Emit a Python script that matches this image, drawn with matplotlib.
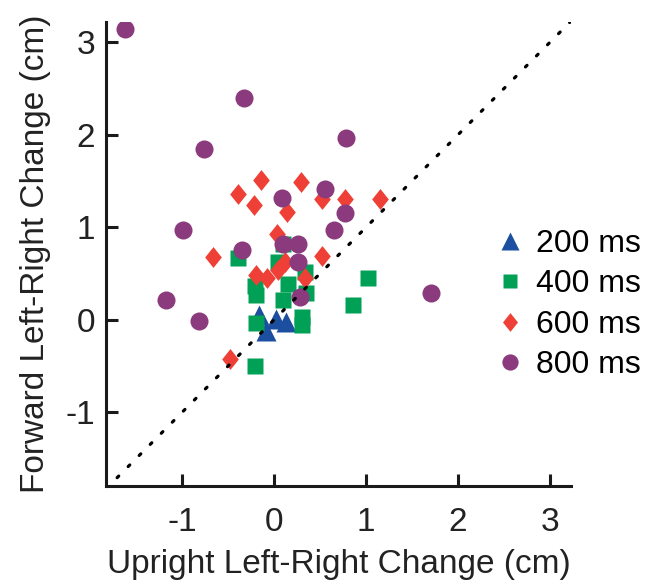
import matplotlib
matplotlib.use('Agg')
import matplotlib.pyplot as plt
from matplotlib.path import Path

plt.rcParams['font.family'] = ['Liberation Sans', 'DejaVu Sans']

# Left-right change per subject, upright (x) vs forward (y), in cm
x_200 = [-0.17, -0.09, 0.02, 0.13]
y_200 = [0.05, -0.12, 0.01, -0.03]

x_400 = [-0.39, 0.09, 0.04, -0.21, -0.20, 0.09, 0.15, 0.34, 0.35, 0.30, 0.30, -0.20, 1.02, 0.86, -0.21]
y_400 = [0.67, 0.82, 0.62, 0.36, 0.27, 0.21, 0.39, 0.51, 0.29, 0.03, -0.06, -0.04, 0.45, 0.16, -0.50]

x_600 = [-0.39, -0.14, -0.22, 0.29, 0.14, 0.52, 0.77, 1.15, 0.03, -0.67, -0.20, -0.08, 0.04, 0.12, 0.34, 0.52, -0.48]
y_600 = [1.36, 1.51, 1.24, 1.49, 1.17, 1.31, 1.31, 1.30, 0.93, 0.68, 0.48, 0.45, 0.54, 0.62, 0.45, 0.69, -0.43]

x_800 = [-1.62, -0.33, -0.76, 0.78, -0.99, -0.35, -1.18, -0.82, 0.08, 0.55, 0.77, 0.65, 0.09, 0.26, 0.26, 0.28, 1.71]
y_800 = [3.14, 2.40, 1.85, 1.96, 0.97, 0.75, 0.21, -0.02, 1.32, 1.41, 1.15, 0.97, 0.82, 0.82, 0.62, 0.25, 0.29]

labels = ['200 ms', '400 ms', '600 ms', '800 ms']
ticks = [-1, 0, 1, 2, 3]

BLUE = '#1c4f9f'
GREEN = '#00a057'
RED = '#ee4036'
PURPLE = '#8b3b7d'

# slightly wide diamond
diamond = Path([(0, 1), (0.8, 0), (0, -1), (-0.8, 0), (0, 1)],
               [Path.MOVETO, Path.LINETO, Path.LINETO, Path.LINETO, Path.CLOSEPOLY])

fig = plt.figure(figsize=(6.47, 5.88), dpi=100)
ax = fig.add_axes([0.164, 0.1735, 0.7185, 0.789])

ax.plot(x_200, y_200, '^', color=BLUE, markersize=14, mec='none', label=labels[0])
ax.plot(x_400, y_400, 's', color=GREEN, markersize=11.5, mec='none', label=labels[1])
ax.plot(x_600, y_600, marker=diamond, ls='none', color=RED, markersize=15, mec='none', label=labels[2])
ax.plot(x_800, y_800, 'o', color=PURPLE, markersize=13, mec='none', label=labels[3])

# unity line
ax.plot([-1.83, 3.25], [-1.83, 3.25], color='black', lw=2.3,
        dashes=(0.7, 4.2), dash_capstyle='round', zorder=5)

ax.set_xlim(-1.83, 3.23)
ax.set_ylim(-1.8, 3.22)
ax.set_xticks(ticks)
ax.set_yticks(ticks)
ax.set_xticklabels([str(t) for t in ticks])
ax.set_yticklabels([str(t) for t in ticks])

for s in ['top', 'right']:
    ax.spines[s].set_visible(False)
for s in ['left', 'bottom']:
    ax.spines[s].set_linewidth(2.2)
    ax.spines[s].set_color('#1a1a1a')

ax.tick_params(axis='both', direction='in', length=8.5, width=2.2, labelsize=24,
               color='#1a1a1a', labelcolor='#222222')
ax.tick_params(axis='x', pad=15)
ax.tick_params(axis='y', pad=8)

ax.set_xlabel('Upright Left-Right Change (cm)', fontsize=24, color='#222222', labelpad=8)
ax.set_ylabel('Forward Left-Right Change (cm)', fontsize=24, color='#222222', labelpad=10)

ax.legend(loc='center left', bbox_to_anchor=(0.739, 0.482), bbox_transform=fig.transFigure,
          frameon=False, fontsize=23, handletextpad=0.3, labelspacing=0.33,
          handlelength=1.0, borderpad=0, numpoints=1, markerscale=0.9)

fig.savefig('out.png', dpi=100, facecolor='white')
